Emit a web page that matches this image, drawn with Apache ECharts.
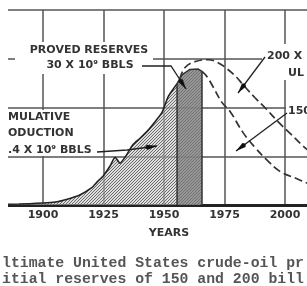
<!DOCTYPE html>
<html>
<head>
<meta charset="utf-8">
<script src="https://cdn.jsdelivr.net/npm/echarts@6/dist/echarts.min.js"></script>
<style>html,body{margin:0;padding:0;background:#fff}</style>
</head>
<body>
<div id="main" style="width:307px;height:286px"></div>
<script>
// 历史产量（十亿桶/年）
var prodYears = [1870, 1890, 1900, 1905, 1910, 1915, 1920, 1922.3, 1924.8, 1927.7, 1929.8, 1931.8, 1933.9, 1937.2, 1940.1, 1943, 1946.3, 1949.2, 1951.7, 1953.7, 1955.4];
var prodValues = [0.01, 0.02, 0.04, 0.06, 0.12, 0.2, 0.35, 0.47, 0.59, 0.8, 0.98, 0.86, 0.98, 1.24, 1.37, 1.51, 1.71, 1.9, 2.22, 2.37, 2.49];
// 已探明储量段
var reserveYears = [1955.4, 1955.4, 1957.4, 1960.7, 1964, 1965.7, 1965.7];
var reserveValues = [0, 2.49, 2.67, 2.78, 2.79, 2.74, 0];
// 200 x 10^9 桶 预测
var ult200Years = [1956.5, 1958.7, 1962.8, 1968.2, 1972.3, 1976.4, 1980.2, 1982.6, 1987.6, 1991.7, 1997.1, 2002.1, 2009.1, 2015];
var ult200Values = [2.58, 2.82, 2.94, 2.98, 2.92, 2.78, 2.61, 2.47, 2.2, 2.0, 1.71, 1.47, 1.14, 0.95];
// 150 x 10^9 桶 预测
var ult150Years = [1965.7, 1967.8, 1970.2, 1974, 1977.3, 1982.6, 1987.6, 1992.6, 1997.9, 2005.4, 2009.1, 2015];
var ult150Values = [2.74, 2.63, 2.43, 2.1, 1.92, 1.49, 1.18, 0.92, 0.69, 0.53, 0.45, 0.35];

function pairs(xs, ys) {
  return xs.map(function (x, i) { return [x, ys[i]]; });
}

// 斜线填充纹理
function hatch(bg, line, step) {
  var c = document.createElement('canvas');
  c.width = step; c.height = step;
  var ctx = c.getContext('2d');
  if (bg) { ctx.fillStyle = bg; ctx.fillRect(0, 0, step, step); }
  ctx.strokeStyle = line; ctx.lineWidth = 1;
  ctx.beginPath();
  ctx.moveTo(0, step); ctx.lineTo(step, 0);
  ctx.moveTo(-1, 1); ctx.lineTo(1, -1);
  ctx.moveTo(step - 1, step + 1); ctx.lineTo(step + 1, step - 1);
  ctx.stroke();
  return c;
}

// 引线 + 箭头
function leader(pts) {
  var n = pts.length, a = pts[n - 2], b = pts[n - 1];
  var ang = Math.atan2(b[1] - a[1], b[0] - a[0]);
  var L = 10, W = 2.6;
  var bx = b[0] - L * Math.cos(ang), by = b[1] - L * Math.sin(ang);
  var nx = -Math.sin(ang) * W, ny = Math.cos(ang) * W;
  return [
    { type: 'polyline', z: 20, shape: { points: pts }, style: { stroke: '#222', lineWidth: 1.3, fill: null } },
    { type: 'polygon', z: 20, shape: { points: [b, [bx + nx, by + ny], [bx - L * 0.2 * Math.cos(ang), by - L * 0.2 * Math.sin(ang)], [bx - nx, by - ny]] }, style: { fill: '#111' } }
  ];
}

var labelFont = 'bold 11px "DejaVu Sans"';
function txt(s, x, y, align) {
  return { type: 'text', z: 21, style: { text: s, x: x, y: y, align: align || 'left', verticalAlign: 'middle', font: labelFont, fill: '#333' } };
}
function box(x, y, w, h) {
  return { type: 'rect', z: 19, shape: { x: x, y: y, width: w, height: h }, style: { fill: '#fff' } };
}

var graphics = [
  box(15, 42, 138, 32),
  txt('PROVED RESERVES', 89, 50, 'center'),
  txt('30 X 10⁹ BBLS', 90, 65, 'center'),
  box(0, 110, 97, 46),
  txt('MULATIVE', 8, 117),
  txt('ODUCTION', 8, 133),
  txt('.4 X 10⁹ BBLS', 8, 150),
  box(262, 44, 45, 36),
  txt('200 X', 267, 56),
  txt('UL', 288, 73),
  box(286, 104, 21, 14),
  txt('150', 288, 111),
  txt('YEARS', 169, 233, 'center'),
  { type: 'rect', z: 30, shape: { x: 0, y: 0, width: 8, height: 240 }, style: { fill: '#fff' } },
  { type: 'text', z: 21, style: { text: 'ltimate United States crude-oil pr', x: 2, y: 263, verticalAlign: 'middle', font: 'bold 14.8px "Liberation Mono"', fill: '#555' } },
  { type: 'text', z: 21, style: { text: 'itial reserves of 150 and 200 bill', x: 2, y: 279, verticalAlign: 'middle', font: 'bold 14.8px "Liberation Mono"', fill: '#555' } }
];
graphics = graphics
  .concat(leader([[142, 66], [171, 66], [186, 89]]))
  .concat(leader([[97, 152], [127, 150], [157, 146]]))
  .concat(leader([[265, 57], [238, 93]]))
  .concat(leader([[287, 113], [236, 151]]));

var myChart = echarts.init(document.getElementById('main'));
var option = {
  backgroundColor: '#fff',
  animation: false,
  grid: { left: -17.5, top: 10, width: 363, height: 195, containLabel: false, outerBoundsMode: 'none' },
  xAxis: {
    type: 'value', min: 1875, max: 2025, interval: 25,
    axisLine: { lineStyle: { color: '#222', width: 3 } },
    axisTick: { show: false },
    axisLabel: { color: '#333', fontSize: 11, fontWeight: 'bold', fontFamily: 'DejaVu Sans', margin: 5, formatter: function (v) { return String(v); } },
    splitLine: { show: true, lineStyle: { color: '#555', width: 1.5 } }
  },
  yAxis: {
    type: 'value', min: 0, max: 4, interval: 1,
    axisLine: { show: false }, axisTick: { show: false }, axisLabel: { show: false },
    splitLine: { lineStyle: { color: '#555', width: 1.5 } }
  },
  series: [
    {
      type: 'line', name: 'production', data: pairs(prodYears, prodValues),
      symbol: 'none', smooth: 0.2,
      lineStyle: { color: '#222', width: 1.6 },
      areaStyle: { color: { image: hatch('rgba(200,200,200,0.6)', '#6a6a6a', 3), repeat: 'repeat' }, opacity: 1 }
    },
    {
      type: 'line', name: 'reserves', data: pairs(reserveYears, reserveValues),
      symbol: 'none', smooth: false,
      lineStyle: { color: '#333', width: 1.5 },
      areaStyle: { color: { image: hatch('#8f8f8f', '#666', 3), repeat: 'repeat' }, opacity: 0.92 }
    },
    {
      type: 'line', name: '200', data: pairs(ult200Years, ult200Values),
      symbol: 'none', smooth: 0.4,
      lineStyle: { color: '#333', width: 1.7, type: [8, 4] }
    },
    {
      type: 'line', name: '150', data: pairs(ult150Years, ult150Values),
      symbol: 'none', smooth: 0.4,
      lineStyle: { color: '#333', width: 1.7, type: [8, 4] }
    }
  ],
  graphic: graphics
};
myChart.setOption(option);
</script>
</body>
</html>
